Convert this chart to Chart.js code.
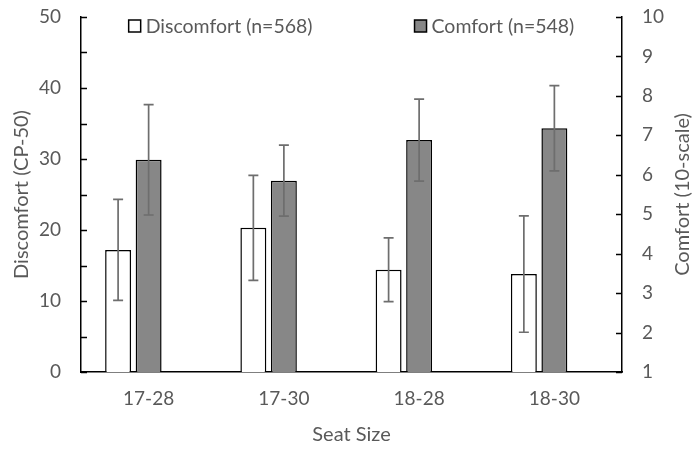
<!DOCTYPE html>
<html>
<head>
<meta charset="utf-8">
<script src="https://cdn.jsdelivr.net/npm/chart.js@4"></script>
<style>
  html, body { margin: 0; padding: 0; background: #fff; }
  #wrap { width: 694px; height: 450px; }
</style>
</head>
<body>
<div id="wrap"><canvas id="c" width="694" height="450"></canvas></div>
<script>
// Seat sizes compared
const seatSizes = ['17-28', '17-30', '18-28', '18-30'];

// Discomfort on the CP-50 scale (mean and standard deviation)
const discomfortMean = [17.2, 20.3, 14.4, 13.8];
const discomfortSD   = [7.1, 7.4, 4.5, 8.2];

// Comfort on the 10-point scale (mean and standard deviation)
const comfortMean = [6.38, 5.85, 6.88, 7.18];
const comfortSD   = [1.4, 0.9, 1.04, 1.08];

const discomfortLabel = 'Discomfort (n=568)';
const comfortLabel = 'Comfort (n=548)';
const rightTitle = 'Comfort (10-scale)';

const FONT = 'Lato, "Open Sans", sans-serif';
const TEXT = '#595959';
const ERR = '#6e6e6e';

// Error bars from each dataset's sd array
const errorBars = {
  id: 'errorBars',
  afterDatasetsDraw(chart) {
    const ctx = chart.ctx;
    chart.data.datasets.forEach((ds, di) => {
      if (!ds.sd) return;
      const meta = chart.getDatasetMeta(di);
      const scale = chart.scales[ds.yAxisID];
      meta.data.forEach((bar, i) => {
        const m = ds.data[i], s = ds.sd[i];
        const yTop = scale.getPixelForValue(m + s);
        const yBot = scale.getPixelForValue(m - s);
        const x = bar.x;
        ctx.save();
        ctx.strokeStyle = ERR;
        ctx.lineWidth = 1.7;
        ctx.beginPath();
        ctx.moveTo(x, yTop); ctx.lineTo(x, yBot);
        ctx.moveTo(x - 5, yTop); ctx.lineTo(x + 5, yTop);
        ctx.moveTo(x - 5, yBot); ctx.lineTo(x + 5, yBot);
        ctx.stroke();
        ctx.restore();
      });
    });
  }
};

// Inward tick marks on both value axes, plus the right axis title read bottom-to-top
const axisExtras = {
  id: 'axisExtras',
  afterDraw(chart) {
    const ctx = chart.ctx;
    const a = chart.chartArea;
    ctx.save();
    ctx.strokeStyle = '#000';
    ctx.lineWidth = 1.5;
    const y = chart.scales.y, y2 = chart.scales.y2;
    ctx.beginPath();
    for (let v = y.min; v <= y.max; v += 5) {
      const p = Math.round(y.getPixelForValue(v)) + 0.5;
      ctx.moveTo(a.left, p); ctx.lineTo(a.left + 6, p);
    }
    for (let v = y2.min; v <= y2.max; v += 1) {
      const p = Math.round(y2.getPixelForValue(v)) + 0.5;
      ctx.moveTo(a.right, p); ctx.lineTo(a.right - 6, p);
    }
    ctx.stroke();

    ctx.translate(y2.right - 11, (a.top + a.bottom) / 2);
    ctx.rotate(-Math.PI / 2);
    ctx.font = '20px ' + FONT;
    ctx.fillStyle = TEXT;
    ctx.textAlign = 'center';
    ctx.textBaseline = 'middle';
    ctx.fillText(rightTitle, 0, 0);
    ctx.restore();
  }
};

// Legend drawn inside the top of the plot, two items spread apart
const topLegend = {
  id: 'topLegend',
  afterDraw(chart) {
    const ctx = chart.ctx;
    const a = chart.chartArea;
    ctx.save();
    ctx.font = '19.5px ' + FONT;
    ctx.textBaseline = 'middle';
    const items = chart.data.datasets.filter(d => d.label);
    const box = 12, gapText = 5, gapItems = 102;
    const widths = items.map(d => box + gapText + ctx.measureText(d.label).width);
    const total = widths.reduce((s, w) => s + w, 0) + gapItems * (items.length - 1);
    let x = (a.left + a.right) / 2 - total / 2;
    const yc = 26;
    items.forEach((d, i) => {
      ctx.fillStyle = d.backgroundColor;
      ctx.fillRect(x, yc - box / 2, box, box);
      ctx.strokeStyle = '#000';
      ctx.lineWidth = 1.5;
      ctx.strokeRect(x, yc - box / 2, box, box);
      ctx.fillStyle = TEXT;
      ctx.fillText(d.label, x + box + gapText, yc + 1);
      x += widths[i] + gapItems;
    });
    ctx.restore();
  }
};

// Fixed axis box sizes; no extra edge padding from label overhang
function fixBox(size, isX) {
  return (s) => {
    if (isX) s.height = size; else s.width = size;
    s.paddingTop = 0; s.paddingBottom = 0;
    s.paddingLeft = 0; s.paddingRight = 0;
  };
}

new Chart(document.getElementById('c'), {
  type: 'bar',
  data: {
    labels: seatSizes,
    datasets: [
      {
        label: discomfortLabel,
        data: discomfortMean,
        sd: discomfortSD,
        yAxisID: 'y',
        backgroundColor: '#ffffff',
        borderColor: '#000000',
        borderWidth: 1.5
      },
      {
        label: comfortLabel,
        data: comfortMean,
        sd: comfortSD,
        yAxisID: 'y2',
        backgroundColor: '#878787',
        borderColor: '#000000',
        borderWidth: 1.5
      },
      {
        // empty slot keeping the pair left of each category centre
        label: '',
        data: seatSizes.map(() => null),
        yAxisID: 'y'
      }
    ]
  },
  options: {
    responsive: false,
    animation: false,
    events: [],
    layout: { padding: { top: 17, left: 0, right: 0, bottom: 0 } },
    datasets: { bar: { categoryPercentage: 0.677, barPercentage: 0.85 } },
    plugins: { legend: { display: false }, tooltip: { enabled: false } },
    scales: {
      x: {
        grid: { display: false, drawTicks: false },
        border: { display: true, color: '#000', width: 1.5 },
        ticks: { color: TEXT, font: { family: FONT, size: 19 }, padding: 15 },
        title: { display: true, text: 'Seat Size', color: TEXT, font: { family: FONT, size: 20 }, padding: { top: 0, bottom: 3 } },
        afterFit: fixBox(78, true)
      },
      y: {
        position: 'left',
        min: 0, max: 50,
        grid: { display: false, drawTicks: false },
        border: { display: true, color: '#000', width: 1.5 },
        ticks: { stepSize: 10, color: TEXT, font: { family: FONT, size: 19 }, padding: 20 },
        title: { display: true, text: 'Discomfort (CP-50)', color: TEXT, font: { family: FONT, size: 20 }, padding: { top: 10, bottom: 0 } },
        afterFit: fixBox(81, false)
      },
      y2: {
        position: 'right',
        min: 1, max: 10,
        grid: { display: false, drawTicks: false },
        border: { display: true, color: '#000', width: 1.5 },
        ticks: { stepSize: 1, color: TEXT, font: { family: FONT, size: 19 }, padding: 20 },
        title: { display: false },
        afterFit: fixBox(72, false)
      }
    }
  },
  plugins: [errorBars, axisExtras, topLegend]
});
</script>
</body>
</html>
